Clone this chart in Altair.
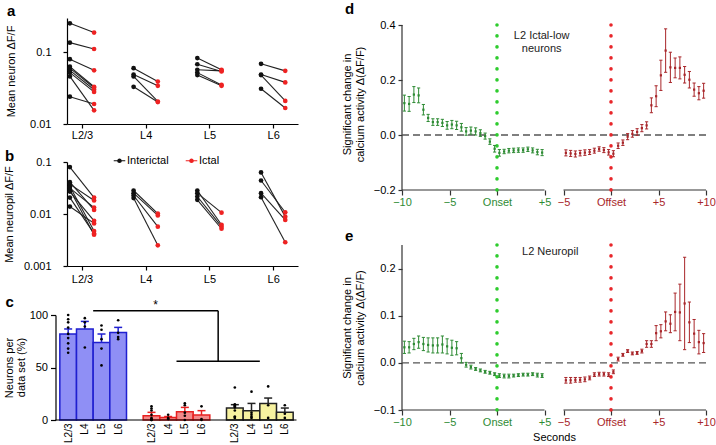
import altair as alt
import pandas as pd

FONT = "Liberation Sans"
PT_BLACK = "#111111"
PT_RED = "#ee2222"
GREEN = "#2e8b34"
GREEN_DOT = "#2ecc2e"
DARKRED = "#a8262a"
RED_DOT = "#e8262a"

LAYERS = ["L2/3", "L4", "L5", "L6"]

# ---- a: mean neuron dF/F per data set (interictal -> ictal) ----
NEURON_INTERICTAL = [
    [0.253, 0.136, 0.080, 0.063, 0.060, 0.056, 0.052, 0.046, 0.024],
    [0.060, 0.049, 0.046, 0.033],
    [0.083, 0.068, 0.057, 0.052, 0.048],
    [0.069, 0.049, 0.048, 0.031],
]
NEURON_ICTAL = [
    [0.188, 0.111, 0.056, 0.033, 0.032, 0.030, 0.028, 0.0155, 0.019],
    [0.039, 0.034, 0.0206, 0.0202],
    [0.057, 0.054, 0.055, 0.035, 0.034],
    [0.055, 0.038, 0.021, 0.0167],
]

# ---- b: mean neuropil dF/F per data set ----
NEUROPIL_INTERICTAL = [
    [0.080, 0.041, 0.0376, 0.0338, 0.0315, 0.0292, 0.027, 0.0207, 0.0139],
    [0.0283, 0.0252, 0.0227, 0.0202],
    [0.0283, 0.0252, 0.0217, 0.0187],
    [0.063, 0.0441, 0.0252, 0.0211],
]
NEUROPIL_ICTAL = [
    [0.0207, 0.0120, 0.0182, 0.0047, 0.0133, 0.0040, 0.0074, 0.0042, 0.0066],
    [0.0102, 0.0094, 0.0057, 0.0025],
    [0.0062, 0.0106, 0.0057, 0.0052],
    [0.0089, 0.0108, 0.0077, 0.00286],
]

# ---- c: neurons per data set (%) by response class and layer ----
CLASSES = ["ictal_low", "ictal_high", "no_change"]
CLASS_FILL = ["#8f8ff5", "#f28a8a", "#f7f2a0"]
CLASS_STROKE = ["#1f1fd0", "#e82020", "#222222"]
PCT_MEAN = [
    [81.9, 86.7, 73.9, 83.4],
    [4.1, 2.3, 7.9, 4.7],
    [11.4, 8.9, 15.8, 7.3],
]
PCT_SEM = [
    [4.8, 7.2, 8.0, 4.8],
    [3.2, 1.0, 4.1, 4.2],
    [3.2, 6.9, 5.1, 4.1],
]
PCT_SETS = [
    [[100, 96, 93, 88, 82, 78, 73, 68, 64], [97, 93, 89, 69], [90, 86, 77, 68, 52], [95, 83, 79, 77]],
    [[13, 11, 9, 5, 2, 1, 0.5, 0, 0], [5, 2, 1, 1], [16, 14, 7, 4, 0], [13, 1, 0]],
    [[31, 15, 14, 13, 12, 9, 3, 2, 3], [27, 7, 5, 3, 2], [32, 14, 2], [14, 6, 2]],
]
BRACKET_TOP = 104
BRACKET_LOW = 56
C_TITLE = ["Neurons per", "data set (%)"]

# ---- d, e: change in calcium activity around seizure onset / offset ----
ONSET_T = [-9.75, -9.25, -8.75, -8.25, -7.75, -7.25, -6.75, -6.25, -5.75, -5.25,
           -4.75, -4.25, -3.75, -3.25, -2.75, -2.25, -1.75, -1.25, -0.75, -0.25,
           0.25, 0.75, 1.25, 1.75, 2.25, 2.75, 3.25, 3.75, 4.25, 4.75]
OFFSET_T = [-4.75, -4.25, -3.75, -3.25, -2.75, -2.25, -1.75, -1.25, -0.75, -0.25,
            0.25, 0.75, 1.25, 1.75, 2.25, 2.75, 3.25, 3.75, 4.25, 4.75,
            5.25, 5.75, 6.25, 6.75, 7.25, 7.75, 8.25, 8.75, 9.25, 9.75]

CELL_ONSET_MEAN = [0.116, 0.113, 0.147, 0.144, 0.092, 0.062, 0.047, 0.047, 0.044, 0.035,
                   0.038, 0.035, 0.028, 0.013, 0.016, 0.013, 0.007, -0.004, -0.024, -0.050,
                   -0.065, -0.060, -0.057, -0.056, -0.055, -0.055, -0.052, -0.056, -0.062, -0.064]
CELL_ONSET_SEM = [0.029, 0.027, 0.029, 0.027, 0.019, 0.013, 0.012, 0.012, 0.013, 0.014,
                  0.015, 0.015, 0.014, 0.014, 0.013, 0.013, 0.012, 0.011, 0.010, 0.012,
                  0.012, 0.008, 0.008, 0.008, 0.008, 0.008, 0.008, 0.009, 0.010, 0.011]
CELL_OFFSET_MEAN = [-0.065, -0.067, -0.069, -0.066, -0.064, -0.062, -0.057, -0.051, -0.055, -0.063,
                    -0.068, -0.039, -0.028, -0.006, 0.004, 0.011, 0.025, 0.035, 0.108, 0.141,
                    0.217, 0.307, 0.246, 0.244, 0.244, 0.219, 0.201, 0.165, 0.152, 0.161]
CELL_OFFSET_SEM = [0.011, 0.011, 0.011, 0.010, 0.010, 0.009, 0.009, 0.008, 0.009, 0.010,
                   0.011, 0.010, 0.010, 0.011, 0.012, 0.012, 0.013, 0.013, 0.027, 0.038,
                   0.055, 0.079, 0.055, 0.036, 0.040, 0.030, 0.030, 0.024, 0.024, 0.027]

PIL_ONSET_MEAN = [0.033, 0.033, 0.040, 0.044, 0.040, 0.038, 0.037, 0.037, 0.039, 0.035,
                  0.032, 0.031, 0.010, -0.004, -0.009, -0.013, -0.016, -0.019, -0.021, -0.024,
                  -0.027, -0.028, -0.028, -0.027, -0.026, -0.025, -0.025, -0.024, -0.026, -0.027]
PIL_ONSET_SEM = [0.013, 0.012, 0.012, 0.013, 0.014, 0.015, 0.016, 0.016, 0.018, 0.016,
                 0.016, 0.014, 0.010, 0.005, 0.004, 0.003, 0.003, 0.003, 0.003, 0.003,
                 0.004, 0.004, 0.004, 0.003, 0.003, 0.003, 0.003, 0.003, 0.004, 0.004]
PIL_OFFSET_MEAN = [-0.037, -0.037, -0.036, -0.036, -0.035, -0.032, -0.025, -0.024, -0.024, -0.025,
                   -0.019, 0.008, 0.017, 0.025, 0.020, 0.021, 0.025, 0.040, 0.040, 0.063,
                   0.067, 0.088, 0.083, 0.108, 0.107, 0.126, 0.086, 0.062, 0.044, 0.042]
PIL_OFFSET_SEM = [0.006, 0.006, 0.005, 0.005, 0.005, 0.004, 0.004, 0.004, 0.004, 0.004,
                  0.004, 0.004, 0.003, 0.003, 0.003, 0.003, 0.004, 0.007, 0.007, 0.016,
                  0.014, 0.020, 0.019, 0.040, 0.060, 0.098, 0.043, 0.030, 0.025, 0.020]

# the offset-aligned window is drawn to the right of the onset window on one axis
SHIFT = 12
SEG_ONSET = [-10, 5]
SEG_OFFSET = [-5, 10]
TICK_SECONDS = [-10, -5, 0, 5, -5, 0, 5, 10]
TICK_LABELS = ["\u221210", "\u22125", "Onset", "+5", "\u22125", "Offset", "+5", "+10"]
TC_TITLE = ["Significant change in", "calcium activity \u0394(\u0394F/F)"]


def letter(txt, dx, offset):
    return alt.TitleParams(txt, anchor="start", frame="group", dx=dx, offset=offset,
                           baseline="alphabetic", fontSize=15, fontWeight="bold", font=FONT)


def title_axis(text, title_x):
    """A bare left axis that only carries one line of a stacked y title."""
    return alt.Axis(orient="left", title=text, labels=False, ticks=False, domain=False, grid=False,
                    titleX=title_x, titleBaseline="middle", titleAngle=270)


def pairs_chart(inter, ictal, ydom, yvals, ytitle, title_x, with_legend, width, height,
                let, let_dx, let_off, xlab_pad):
    rows = []
    for li, (bl, rd) in enumerate(zip(inter, ictal)):
        for pi, (v0, v1) in enumerate(zip(bl, rd)):
            pid = f"{li}-{pi}"
            rows.append(dict(layer=li, pair=pid, state="Interictal", side=-1, value=v0))
            rows.append(dict(layer=li, pair=pid, state="Ictal", side=1, value=v1))
    df = pd.DataFrame(rows)
    label_expr = "[" + ",".join(f"'{s}'" for s in LAYERS) + "][datum.value]"
    x = alt.X("xpos:Q", scale=alt.Scale(domain=[-0.235, 3.39], nice=False, zero=False),
              axis=alt.Axis(values=list(range(len(LAYERS))), labelExpr=label_expr, title=None,
                            tickSize=4, labelPadding=xlab_pad))
    y = alt.Y("value:Q", scale=alt.Scale(type="log", domain=ydom, nice=False),
              axis=alt.Axis(values=yvals, format="~g", title=ytitle, tickSize=4, labelPadding=12,
                            titleX=title_x, titleBaseline="middle", titleAngle=270))
    base = alt.Chart(df).transform_calculate(xpos="datum.layer + datum.side * 0.19")
    lines = base.mark_line(color="#222222", strokeWidth=1.1).encode(x=x, y=y, detail="pair:N")
    if with_legend:
        legend = alt.Legend(orient="none", legendX=47, legendY=-7, direction="horizontal", title=None,
                            symbolType="M-1.25,-0.1H1.25V0.1H-1.25Z M-0.5,0A0.5,0.5,0,1,1,0.5,0A0.5,0.5,0,1,1,-0.5,0Z",
                            symbolSize=85, symbolStrokeWidth=0, labelOffset=2, columnPadding=16,
                            labelFontSize=11, labelFont=FONT)
    else:
        legend = None
    pts = base.mark_circle(size=22, opacity=1).encode(
        x=x, y=y,
        color=alt.Color("state:N", scale=alt.Scale(domain=["Interictal", "Ictal"], range=[PT_BLACK, PT_RED]),
                        legend=legend))
    return alt.layer(lines, pts).properties(width=width, height=height, title=letter(let, let_dx, let_off))


chart_a = pairs_chart(NEURON_INTERICTAL, NEURON_ICTAL, [0.01, 0.3], [0.01, 0.1], "Mean neuron \u0394F/F",
                      -55.5, False, 231, 106, "a", -60, -13, 1)
chart_b = pairs_chart(NEUROPIL_INTERICTAL, NEUROPIL_ICTAL, [0.001, 0.1], [0.001, 0.01, 0.1],
                      "Mean neuropil \u0394F/F", -57.5, True, 231, 104, "b", -62, -21, 3.5)

# ---- c ----
bar_rows, dot_rows = [], []
for gi, g in enumerate(CLASSES):
    for li, lay in enumerate(LAYERS):
        slot = gi * 5 + li
        m, s = PCT_MEAN[gi][li], PCT_SEM[gi][li]
        bar_rows.append(dict(group=g, slot=slot, mean=m, top=m + s))
        for v in PCT_SETS[gi][li]:
            dot_rows.append(dict(slot=slot, pct=v))
bars_df = pd.DataFrame(bar_rows)
dots_df = pd.DataFrame(dot_rows)

centers = [gi * 5 + (len(LAYERS) - 1) / 2 for gi in range(len(CLASSES))]
mid = (centers[1] + centers[2]) / 2
bracket_df = pd.DataFrame([
    dict(x0=centers[0], x1=mid, y0=BRACKET_TOP, y1=BRACKET_TOP),
    dict(x0=mid, x1=mid, y0=BRACKET_TOP, y1=BRACKET_LOW),
    dict(x0=centers[1], x1=centers[2], y0=BRACKET_LOW, y1=BRACKET_LOW),
])
star_df = pd.DataFrame([dict(x=(centers[0] + mid) / 2, y=BRACKET_TOP, t="*")])

# slot range covered by the bar panel, and its full width in pixels
C_XDOM = [-0.76, 13.7]
C_YDOM = [0, 100]
C_WIDTH = 241
# the panel frame starts under its neighbours' y axes; its own y axis and baseline are
# pushed out to the true left edge of the slot range
C_AXIS_OFFSET = 11.5
slot_px = C_WIDTH / (C_XDOM[1] - C_XDOM[0])
c_view_dom = [C_XDOM[0] + C_AXIS_OFFSET / slot_px, C_XDOM[1]]

# second line of the y title, set just left of the tick labels, halfway up the axis
ytitle2_df = pd.DataFrame([dict(x=C_XDOM[0] - 2.01, y=sum(C_YDOM) / 2, t=C_TITLE[1])])
base_df = pd.DataFrame([dict(x0=C_XDOM[0], x1=C_XDOM[1], y=C_YDOM[0])])

slots = [gi * 5 + li for gi in range(len(CLASSES)) for li in range(len(LAYERS))]
c_label_expr = "[" + ",".join(f"'{s}'" for s in LAYERS) + "][datum.value % 5]"
xc_scale = alt.Scale(domain=c_view_dom, nice=False, zero=False)
xc_axis = alt.Axis(values=slots, labelExpr=c_label_expr, labelAngle=270, ticks=False, domain=False,
                   labelPadding=3, labelFontSize=10, title=None)
yc_scale = alt.Scale(domain=C_YDOM, nice=False)
yc_axis = alt.Axis(values=[0, 50, 100], title=C_TITLE[0], tickSize=5, labelPadding=3,
                   offset=C_AXIS_OFFSET, titleX=-46, titleBaseline="middle", titleAngle=270)


def xc(field):
    return alt.X(field, scale=xc_scale, axis=xc_axis)


def yc(field):
    return alt.Y(field, scale=yc_scale, axis=yc_axis)


fill = alt.Fill("group:N", scale=alt.Scale(domain=CLASSES, range=CLASS_FILL), legend=None)
stroke = alt.Stroke("group:N", scale=alt.Scale(domain=CLASSES, range=CLASS_STROKE), legend=None)

bars_base = alt.Chart(bars_df).transform_calculate(
    x0="datum.slot - 0.5", x1="datum.slot + 0.5", c0="datum.slot - 0.24", c1="datum.slot + 0.24")
c_bars = bars_base.mark_rect(strokeWidth=1.5).encode(x=xc("x0:Q"), x2="x1:Q", y=yc("mean:Q"),
                                                      y2=alt.Y2(datum=0), fill=fill, stroke=stroke)
c_err = bars_base.mark_rule(strokeWidth=1.5).encode(x=xc("slot:Q"), y=yc("mean:Q"), y2="top:Q", stroke=stroke)
c_cap = bars_base.mark_rule(strokeWidth=1.5).encode(x=xc("c0:Q"), x2="c1:Q", y=yc("top:Q"), stroke=stroke)
c_dots = alt.Chart(dots_df).mark_circle(size=7, color="black", opacity=1).encode(x=xc("slot:Q"), y=yc("pct:Q"))
c_bracket = alt.Chart(bracket_df).mark_rule(color="black", strokeWidth=1.5).encode(
    x=xc("x0:Q"), x2="x1:Q", y=yc("y0:Q"), y2="y1:Q")
c_star = alt.Chart(star_df).mark_text(font=FONT, fontSize=12, baseline="alphabetic", dy=-2,
                                      color="black").encode(x=xc("x:Q"), y=yc("y:Q"), text="t:N")
c_title2 = alt.Chart(ytitle2_df).mark_text(font=FONT, fontSize=11, angle=270, align="center",
                                           baseline="middle", color="black").encode(
    x=xc("x:Q"), y=yc("y:Q"), text="t:N")
c_base = alt.Chart(base_df).mark_rule(color="black", strokeWidth=1.2).encode(
    x=xc("x0:Q"), x2="x1:Q", y=yc("y:Q"))

chart_c = alt.layer(c_bars, c_err, c_cap, c_dots, c_base, c_bracket, c_star, c_title2).properties(
    width=C_WIDTH - C_AXIS_OFFSET, height=105, title=letter("c", -61.5, -23))

# single colour scale for the time-course panels
PHASES = ["onset", "offset", "onset_line", "offset_line"]
PHASE_COLORS = [GREEN, DARKRED, GREEN_DOT, RED_DOT]
TC_HEIGHT = 165


# ---- d, e ----
def timecourse(on_m, on_s, off_m, off_s, yrange, yvals, head_px, note, note_x, note_y, note_base,
               let, let_off, xtitle):
    rows = []
    for t, m, s in zip(ONSET_T, on_m, on_s):
        rows.append(dict(pos=t, mean=m, lo=m - s, hi=m + s, phase="onset"))
    for t, m, s in zip(OFFSET_T, off_m, off_s):
        rows.append(dict(pos=t + SHIFT, mean=m, lo=m - s, hi=m + s, phase="offset"))
    df = pd.DataFrame(rows)
    xmin, xmax = SEG_ONSET[0], SEG_OFFSET[1] + SHIFT
    ybot, ytop = yrange
    # extra headroom above the top tick keeps the plot frame in line with its neighbour
    ydom = [ybot, ytop + (ytop - ybot) * head_px / TC_HEIGHT]
    tick_pos = [v for v in TICK_SECONDS[:4]] + [v + SHIFT for v in TICK_SECONDS[4:]]
    label_expr = ("[" + ",".join(f"'{s}'" for s in TICK_LABELS) + "][indexof(["
                  + ",".join(str(p) for p in tick_pos) + "], datum.value)]")
    xs = alt.Scale(domain=[xmin, xmax], nice=False, zero=False)
    ys = alt.Scale(domain=ydom, nice=False, zero=False)
    x_axis = alt.Axis(values=tick_pos, labelExpr=label_expr, domain=False, tickSize=5, labelPadding=1,
                      labelFlush=False, tickColor="#333333", title=xtitle, titlePadding=4,
                      labelColor={"condition": {"test": f"datum.value < {SEG_ONSET[1] + 1}", "value": GREEN},
                                  "value": DARKRED})
    y_axis = alt.Axis(values=yvals, format=".1f", tickSize=4, labelPadding=3, domain=False, labelFlush=False,
                      title=TC_TITLE[0], titleX=-54.6, titleBaseline="middle", titleAngle=270,
                      tickColor="#333333")
    color = alt.Color("phase:N", scale=alt.Scale(domain=PHASES, range=PHASE_COLORS), legend=None)

    def X(field):
        return alt.X(field, scale=xs, axis=x_axis)

    def Y(field, axis=None):
        return alt.Y(field, scale=ys, axis=axis)

    seg_df = pd.DataFrame([dict(x0=SEG_ONSET[0], x1=SEG_ONSET[1], y=ybot),
                           dict(x0=SEG_OFFSET[0] + SHIFT, x1=SEG_OFFSET[1] + SHIFT, y=ybot)])
    segs = alt.Chart(seg_df).mark_rule(color="#333333", strokeWidth=1.2).encode(
        x=X("x0:Q"), x2="x1:Q", y=Y("y:Q", y_axis))
    yline_df = pd.DataFrame([dict(x=xmin, y0=ybot, y1=ytop)])
    yline = alt.Chart(yline_df).mark_rule(color="#333333", strokeWidth=1.2).encode(
        x=X("x:Q"), y=Y("y0:Q", title_axis(TC_TITLE[1], -41.2)), y2="y1:Q")
    zero_df = pd.DataFrame([dict(x0=xmin, x1=xmax, y=0)])
    zero = alt.Chart(zero_df).mark_rule(color="#555555", strokeWidth=1.3, strokeDash=[7, 4]).encode(
        x=X("x0:Q"), x2="x1:Q", y=Y("y:Q"))
    ev_df = pd.DataFrame([dict(x=0, y0=ybot, y1=ytop, phase="onset_line"),
                          dict(x=SHIFT, y0=ybot, y1=ytop, phase="offset_line")])
    events = alt.Chart(ev_df).mark_rule(strokeWidth=3.6, strokeDash=[0.1, 10.9], strokeCap="round").encode(
        x=X("x:Q"), y=Y("y0:Q"), y2="y1:Q", color=color)
    err = alt.Chart(df).mark_rule(strokeWidth=1).encode(x=X("pos:Q"), y=Y("lo:Q"), y2="hi:Q", color=color)
    cap_lo = alt.Chart(df).mark_point(shape="stroke", size=10, strokeWidth=1, filled=False, opacity=1).encode(
        x=X("pos:Q"), y=Y("lo:Q"), color=color)
    cap_hi = alt.Chart(df).mark_point(shape="stroke", size=10, strokeWidth=1, filled=False, opacity=1).encode(
        x=X("pos:Q"), y=Y("hi:Q"), color=color)
    ctr = alt.Chart(df).mark_square(size=5, opacity=1).encode(x=X("pos:Q"), y=Y("mean:Q"), color=color)
    note_df = pd.DataFrame([dict(x=note_x, y=note_y, t=note)])
    txt = alt.Chart(note_df).mark_text(font=FONT, fontSize=11, lineBreak="\n", baseline=note_base,
                                       align="center", color="#222222").encode(
        x=X("x:Q"), y=Y("y:Q"), text="t:N")
    return alt.layer(segs, yline, zero, events, err, cap_lo, cap_hi, ctr, txt).resolve_scale(
        y="independent").properties(width=304, height=TC_HEIGHT + head_px, title=letter(let, -57, let_off))


chart_d = timecourse(CELL_ONSET_MEAN, CELL_ONSET_SEM, CELL_OFFSET_MEAN, CELL_OFFSET_SEM,
                     [-0.2, 0.4], [-0.2, 0.0, 0.2, 0.4], 7, "L2 Ictal-low\nneurons", 4.7, 0.383, "top",
                     "d", -11, None)
chart_e = timecourse(PIL_ONSET_MEAN, PIL_ONSET_SEM, PIL_OFFSET_MEAN, PIL_OFFSET_SEM,
                     [-0.1, 0.25], [-0.1, 0.0, 0.1, 0.2], 0, "L2 Neuropil", 5.6, 0.236, "middle",
                     "e", -13, "Seconds")

left = alt.concat(chart_a, chart_b, chart_c, columns=1, spacing=9, align="none").resolve_scale(
    color="independent").resolve_legend(color="independent")
right = alt.vconcat(chart_d, chart_e, spacing=22)

chart = alt.concat(left, right, columns=2, spacing=43, align="none").resolve_scale(
    color="independent").resolve_legend(color="independent").properties(
    padding={"left": 3, "top": 2, "right": 0, "bottom": 0}
).configure_view(stroke=None).configure_axis(
    labelFont=FONT, titleFont=FONT, labelFontSize=11, titleFontSize=11, titleFontWeight="normal",
    grid=False, domainColor="black", tickColor="black", labelColor="black", titleColor="black",
    domainWidth=1.2, tickWidth=1.2
)

chart.save("out.html", embed_options={"renderer": "svg", "actions": False})
